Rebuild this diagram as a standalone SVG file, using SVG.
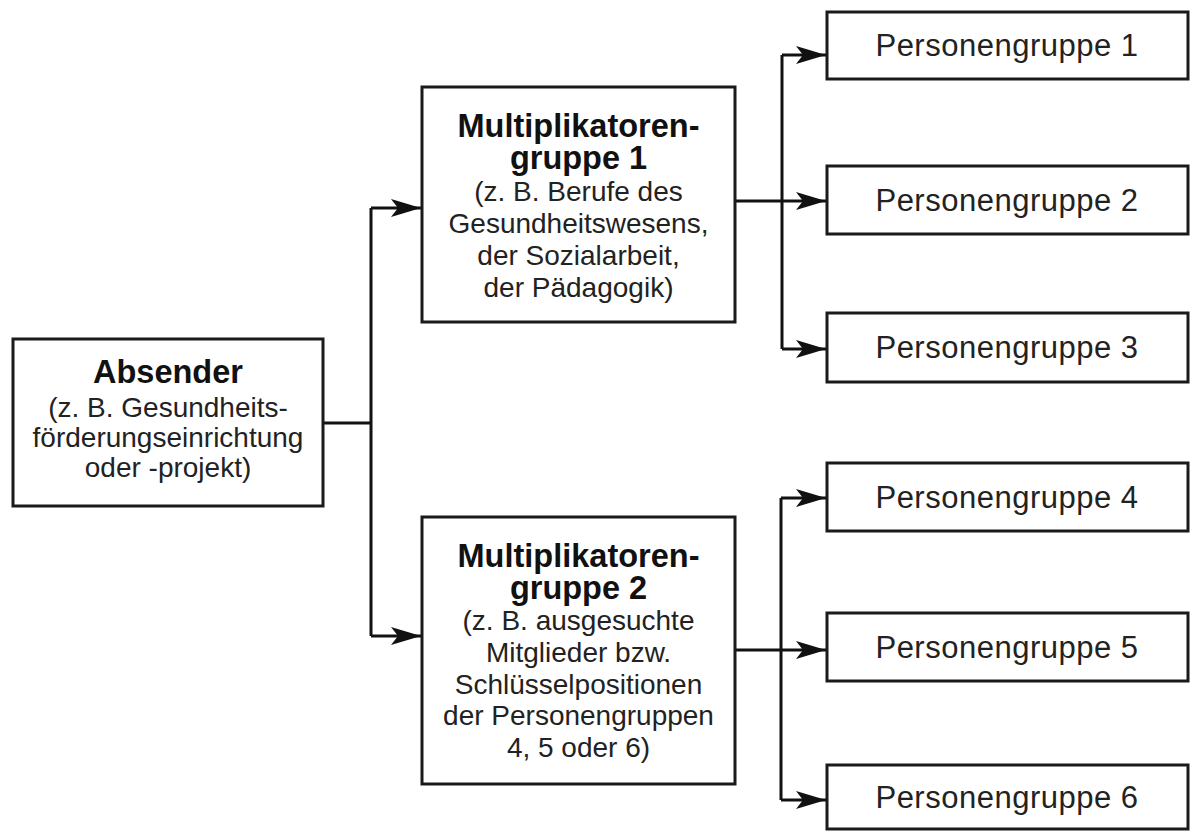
<svg xmlns="http://www.w3.org/2000/svg" width="1192" height="831" viewBox="0 0 1192 831">
<style>
.box{fill:#fff;stroke:#1a1a1a;stroke-width:3}
.t{font-family:"Liberation Sans",Arial,sans-serif;font-size:28px;fill:#222;text-anchor:middle}
.b{font-weight:bold;font-size:32.5px;fill:#111}
.p{font-size:31px;letter-spacing:0.5px}
.c{fill:none;stroke:#111;stroke-width:3}
</style>
<defs>
<marker id="ah" markerUnits="userSpaceOnUse" markerWidth="32" markerHeight="20" refX="30" refY="9" orient="auto">
<path d="M0,0 L30,9 L0,18 L7,9 Z" fill="#111"/>
</marker>
</defs>
<rect width="1192" height="831" fill="#fff"/>
<g id="connectors">
<path class="c" d="M323,423 H371"/>
<path class="c" d="M371,208 V636"/>
<path class="c" d="M371,208 H421" marker-end="url(#ah)"/>
<path class="c" d="M371,636 H421" marker-end="url(#ah)"/>
<path class="c" d="M735,201 H826" marker-end="url(#ah)"/>
<path class="c" d="M782,55 V349"/>
<path class="c" d="M782,55 H826" marker-end="url(#ah)"/>
<path class="c" d="M782,349 H826" marker-end="url(#ah)"/>
<path class="c" d="M735,650 H826" marker-end="url(#ah)"/>
<path class="c" d="M781,498 V800"/>
<path class="c" d="M781,498 H826" marker-end="url(#ah)"/>
<path class="c" d="M781,800 H826" marker-end="url(#ah)"/>
</g>
<g id="absender">
<rect class="box" x="13" y="339" width="310" height="167"/>
<text class="t b" x="168" y="383">Absender</text>
<text class="t" x="168" y="417">(z. B. Gesundheits-</text>
<text class="t" x="168" y="447">förderungseinrichtung</text>
<text class="t" x="168" y="477">oder -projekt)</text>
</g>
<g id="mg1">
<rect class="box" x="422" y="87" width="313" height="235"/>
<text class="t b" x="578.5" y="137">Multiplikatoren-</text>
<text class="t b" x="578.5" y="169">gruppe 1</text>
<text class="t" x="578.5" y="201">(z. B. Berufe des</text>
<text class="t" x="578.5" y="233">Gesundheitswesens,</text>
<text class="t" x="578.5" y="265">der Sozialarbeit,</text>
<text class="t" x="578.5" y="297">der Pädagogik)</text>
</g>
<g id="mg2">
<rect class="box" x="422" y="517" width="313" height="267"/>
<text class="t b" x="578.5" y="567">Multiplikatoren-</text>
<text class="t b" x="578.5" y="599">gruppe 2</text>
<text class="t" x="578.5" y="630">(z. B. ausgesuchte</text>
<text class="t" x="578.5" y="662">Mitglieder bzw.</text>
<text class="t" x="578.5" y="694">Schlüsselpositionen</text>
<text class="t" x="578.5" y="725">der Personengruppen</text>
<text class="t" x="578.5" y="757">4, 5 oder 6)</text>
</g>
<g id="pg1">
<rect class="box" x="827" y="12" width="361" height="67"/>
<text class="t p" x="1007" y="56">Personengruppe 1</text>
</g>
<g id="pg2">
<rect class="box" x="827" y="166" width="361" height="68"/>
<text class="t p" x="1007" y="211">Personengruppe 2</text>
</g>
<g id="pg3">
<rect class="box" x="827" y="313" width="361" height="69"/>
<text class="t p" x="1007" y="358">Personengruppe 3</text>
</g>
<g id="pg4">
<rect class="box" x="827" y="463" width="361" height="68"/>
<text class="t p" x="1007" y="508">Personengruppe 4</text>
</g>
<g id="pg5">
<rect class="box" x="827" y="613" width="361" height="68"/>
<text class="t p" x="1007" y="658">Personengruppe 5</text>
</g>
<g id="pg6">
<rect class="box" x="827" y="765" width="361" height="64"/>
<text class="t p" x="1007" y="808">Personengruppe 6</text>
</g>
</svg>
